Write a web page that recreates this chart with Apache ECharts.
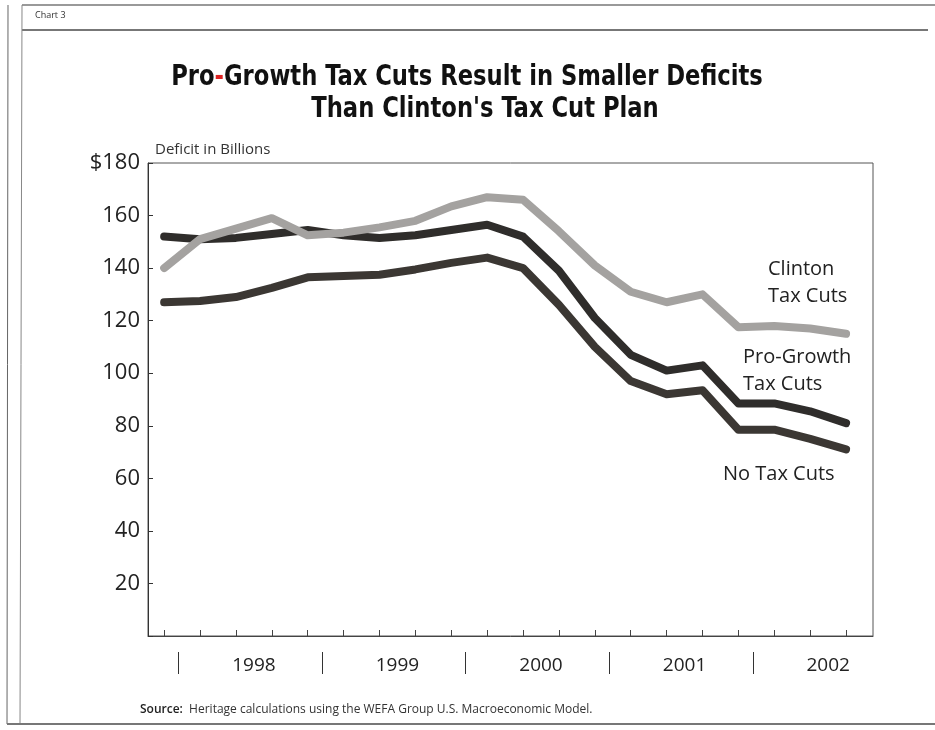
<!DOCTYPE html>
<html>
<head>
<meta charset="utf-8">
<script src="https://cdn.jsdelivr.net/npm/echarts@6/dist/echarts.min.js"></script>
<style>
  html, body { margin: 0; background: #fff; }
  #chart { width: 935px; height: 730px; }
</style>
</head>
<body>
<div id="chart"></div>
<script>
// quarterly deficit projections, $ billions
const quarters = [
  '1997 Q4',
  '1998 Q1', '1998 Q2', '1998 Q3', '1998 Q4',
  '1999 Q1', '1999 Q2', '1999 Q3', '1999 Q4',
  '2000 Q1', '2000 Q2', '2000 Q3', '2000 Q4',
  '2001 Q1', '2001 Q2', '2001 Q3', '2001 Q4',
  '2002 Q1', '2002 Q2', '2002 Q3'
];
const clintonCuts = [140, 151, 155, 159, 152.5, 153.5, 155.5, 158, 163.5, 167, 166, 154, 141, 131, 127, 130, 117.5, 118, 117, 115];
const proGrowthCuts = [152, 151, 151.5, 153, 154.5, 152.5, 151.5, 152.5, 154.5, 156.5, 152, 139, 121, 107, 101, 103, 88.5, 88.5, 85.5, 81];
const noTaxCuts = [127, 127.5, 129, 132.5, 136.5, 137, 137.5, 139.5, 142, 144, 140, 126, 110, 97, 92, 93.5, 78.5, 78.5, 75, 71];
const years = ['1998', '1999', '2000', '2001', '2002'];

const labelFont = '"Open Sans", Lato, sans-serif';
const titleFont = 'bold 28px "Liberation Sans Narrow", "DejaVu Sans Condensed", sans-serif';

// quarter index helpers for the year band under the axis
const firstIdx = years.map(y => quarters.findIndex(q => q.startsWith(y)));
const yearCenters = firstIdx.map(i => i + 1.5);
const yearSeps = firstIdx.map(i => i - 0.6);
const quarterTicks = quarters.map((q, i) => i);

const toPts = arr => arr.map((v, i) => [i, v]);

const chart = echarts.init(document.getElementById('chart'));

chart.setOption({
  animation: false,
  backgroundColor: '#fff',
  grid: {
    left: 148, right: 62, top: 163, bottom: 94,
    show: true, borderColor: '#555', borderWidth: 1, backgroundColor: 'transparent'
  },
  xAxis: [
    {
      type: 'value', min: -0.45, max: 19.75,
      axisLine: { show: true, onZero: false, lineStyle: { color: '#444', width: 1 } },
      axisTick: { show: true, inside: true, length: 6, customValues: quarterTicks, lineStyle: { color: '#444' } },
      axisLabel: { show: false },
      splitLine: { show: false }
    },
    {
      type: 'value', min: -0.45, max: 19.75, position: 'bottom', offset: 16,
      axisLine: { show: false, onZero: false },
      axisTick: { show: true, length: 22, customValues: yearSeps, lineStyle: { color: '#333', width: 1 } },
      axisLabel: {
        show: true, customValues: yearCenters, margin: 4,
        showMinLabel: true, showMaxLabel: true,
        formatter: v => {
          const k = yearCenters.findIndex(c => Math.abs(c - v) < 0.01);
          return k < 0 ? '' : years[k];
        },
        color: '#222', fontSize: 19, fontFamily: labelFont
      },
      splitLine: { show: false }
    }
  ],
  yAxis: {
    type: 'value', min: 0, max: 180, interval: 20,
    axisLine: { show: true, onZero: false, lineStyle: { color: '#333', width: 1 } },
    axisTick: { show: true, inside: true, length: 5, lineStyle: { color: '#333' } },
    axisLabel: {
      color: '#222', fontSize: 22, fontFamily: labelFont, margin: 8,
      formatter: v => v === 0 ? '' : (v === 180 ? '$180' : String(v))
    },
    splitLine: { show: false }
  },
  series: [
    {
      name: 'No Tax Cuts', type: 'line', xAxisIndex: 0, data: toPts(noTaxCuts), symbol: 'none',
      lineStyle: { color: '#3b3733', width: 8, cap: 'round', join: 'round' }
    },
    {
      name: 'Pro-Growth Tax Cuts', type: 'line', xAxisIndex: 0, data: toPts(proGrowthCuts), symbol: 'none',
      lineStyle: { color: '#2f2d2b', width: 8, cap: 'round', join: 'round' }
    },
    {
      name: 'Clinton Tax Cuts', type: 'line', xAxisIndex: 0, data: toPts(clintonCuts), symbol: 'none',
      lineStyle: { color: '#a4a2a0', width: 8, cap: 'round', join: 'round' }
    }
  ],
  graphic: [
    // scanned page frame
    { type: 'line', shape: { x1: 22, y1: 5, x2: 935, y2: 5 }, style: { stroke: '#999', lineWidth: 2 } },
    { type: 'line', shape: { x1: 22, y1: 30, x2: 928, y2: 30 }, style: { stroke: '#777', lineWidth: 2 } },
    { type: 'line', shape: { x1: 8, y1: 5, x2: 7, y2: 724 }, style: { stroke: '#666', lineWidth: 1 } },
    { type: 'line', shape: { x1: 22, y1: 5, x2: 20, y2: 724 }, style: { stroke: '#888', lineWidth: 1 } },
    { type: 'line', shape: { x1: 7, y1: 724, x2: 935, y2: 724 }, style: { stroke: '#777', lineWidth: 2 } },
    { type: 'text', style: { text: 'Chart 3', x: 35, y: 15, font: '9px ' + labelFont, fill: '#333', textVerticalAlign: 'middle' } },
    // title
    {
      type: 'text', x: 467, y: 78, scaleX: 0.9,
      style: {
        text: 'Pro{r|-}Growth Tax Cuts Result in Smaller Deficits',
        x: 0, y: 0, textAlign: 'center', textVerticalAlign: 'middle',
        font: titleFont, fill: '#111',
        rich: { r: { fill: '#d22', font: titleFont } }
      }
    },
    {
      type: 'text', x: 485, y: 110, scaleX: 0.9,
      style: {
        text: "Than Clinton's Tax Cut Plan",
        x: 0, y: 0, textAlign: 'center', textVerticalAlign: 'middle',
        font: titleFont, fill: '#111'
      }
    },
    { type: 'text', style: { text: 'Deficit in Billions', x: 155, y: 150, font: '15px ' + labelFont, fill: '#333', textVerticalAlign: 'middle' } },
    // series labels
    { type: 'text', style: { text: 'Clinton\nTax Cuts', x: 768, y: 256, font: '20px ' + labelFont, fill: '#222', lineHeight: 27, textVerticalAlign: 'top' } },
    { type: 'text', style: { text: 'Pro-Growth\nTax Cuts', x: 743, y: 344, font: '20px ' + labelFont, fill: '#222', lineHeight: 27, textVerticalAlign: 'top' } },
    { type: 'text', style: { text: 'No Tax Cuts', x: 723, y: 474, font: '20px ' + labelFont, fill: '#222', textVerticalAlign: 'middle' } },
    // source
    {
      type: 'text',
      style: {
        text: '{b|Source:}  Heritage calculations using the WEFA Group U.S. Macroeconomic Model.',
        x: 140, y: 710, textVerticalAlign: 'middle',
        font: '12px ' + labelFont, fill: '#333',
        rich: { b: { font: '600 12px ' + labelFont, fill: '#222' } }
      }
    }
  ]
});
</script>
</body>
</html>
